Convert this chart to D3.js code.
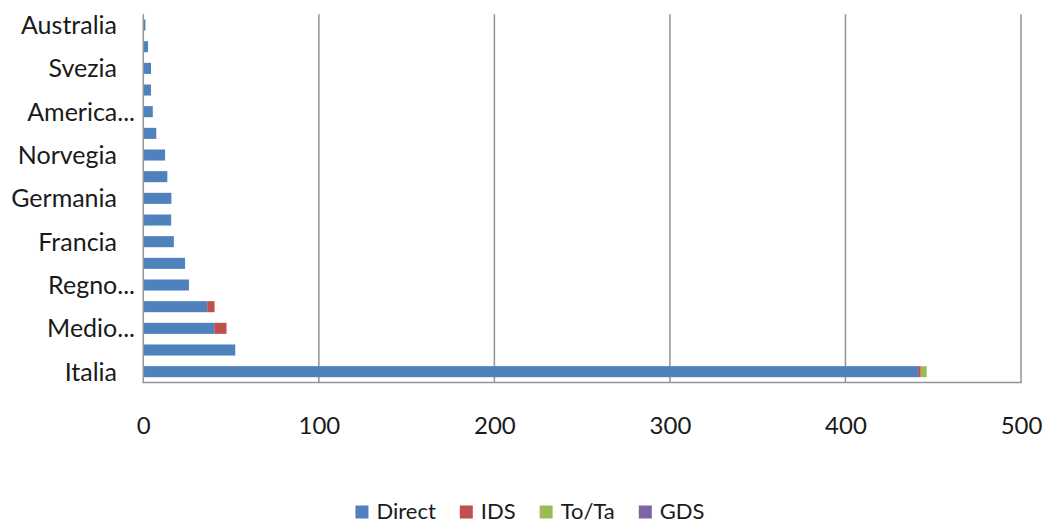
<!DOCTYPE html>
<html>
<head>
<meta charset="utf-8">
<script src="https://cdn.jsdelivr.net/npm/d3@7"></script>
<style>
  html, body { margin: 0; padding: 0; background: #fff; }
  svg { display: block; }
  text { font-family: Lato, "Open Sans", sans-serif; fill: #1a1a1a; }
</style>
</head>
<body>
<svg id="chart" width="1050" height="525"></svg>
<script>
// categories from bottom (Italia) to top (Australia); every other one is unlabeled in the source
const categories = ["Italia", "Spagna", "Medio Oriente", "Africa", "Regno Unito", "Svizzera",
  "Francia", "Belgio", "Germania", "Paesi Bassi", "Norvegia", "Danimarca",
  "America Latina", "Asia", "Svezia", "Finlandia", "Australia"];
const seriesNames = ["Direct", "IDS", "To/Ta", "GDS"];
const seriesColors = ["#4F81BD", "#C0504D", "#9BBB59", "#8064A2"];
const direct = [441, 52, 40, 36, 25.6, 23.4, 17, 15.5, 15.6, 13.3, 12, 7, 5, 4, 4, 2.3, 0.8];
const ids    = [1.5, 0, 7, 4.2, 0, 0, 0, 0, 0, 0, 0, 0, 0, 0, 0, 0, 0];
const tota   = [3.4, 0, 0, 0, 0, 0, 0, 0, 0, 0, 0, 0, 0, 0, 0, 0, 0];
const gds    = [0, 0, 0, 0, 0, 0, 0, 0, 0, 0, 0, 0, 0, 0, 0, 0, 0];
const xTicks = [0, 100, 200, 300, 400, 500];
const labelEvery = 2;

const svg = d3.select("#chart");
const plotL = 143.3, plotR = 1021, plotT = 14.2, plotB = 382.5;

const rows = categories.map((c, i) => ({ cat: c, Direct: direct[i], IDS: ids[i], "To/Ta": tota[i], GDS: gds[i] }));

const x = d3.scaleLinear().domain([0, 500]).range([plotL, plotR]);
const y = d3.scaleBand().domain(categories).range([plotB, plotT]).paddingInner(0.49).paddingOuter(0.245);

const stacked = d3.stack().keys(seriesNames)(rows);

// gridlines
svg.append("g").selectAll("line").data(xTicks.filter(t => t > 0)).join("line")
  .attr("x1", d => x(d)).attr("x2", d => x(d))
  .attr("y1", plotT).attr("y2", plotB)
  .attr("stroke", "#939393").attr("stroke-width", 1.5);

// bars
svg.append("g").selectAll("g").data(stacked).join("g")
  .attr("fill", (d, i) => seriesColors[i])
  .selectAll("rect").data(d => d).join("rect")
  .attr("x", d => x(d[0]) + 0.7)
  .attr("width", d => Math.max(0, x(d[1]) - x(d[0])))
  .attr("y", d => y(d.data.cat))
  .attr("height", y.bandwidth());

// axis lines
svg.append("line").attr("x1", plotL).attr("x2", plotL).attr("y1", plotT).attr("y2", plotB)
  .attr("stroke", "#939393").attr("stroke-width", 1.5);
svg.append("line").attr("x1", plotL - 0.75).attr("x2", plotR + 0.75).attr("y1", plotB).attr("y2", plotB)
  .attr("stroke", "#939393").attr("stroke-width", 1.5);

// x tick labels
const xAxis = d3.axisBottom(x).tickValues(xTicks).tickSize(0).tickPadding(0).tickFormat(d3.format("d"));
const gx = svg.append("g").attr("transform", `translate(0,${plotB})`).call(xAxis);
gx.select(".domain").remove();
gx.selectAll("text").attr("dy", null).attr("y", 51).attr("font-size", 24)
  .style("font-family", "Lato, sans-serif").attr("fill", "#111");

// y labels (every other one)
const yAxis = d3.axisLeft(y).tickSize(0).tickPadding(0)
  .tickFormat((d, i) => {
    if (i % labelEvery !== 0) return "";
    const parts = d.split(" ");
    return parts.length > 1 ? parts[0] + "..." : d;
  });
const gy = svg.append("g").call(yAxis);
gy.select(".domain").remove();
gy.selectAll("text")
  .attr("x", d => d.split(" ").length > 1 ? 135 : 117)
  .attr("dy", "0.36em").attr("font-size", 25)
  .style("font-family", "Lato, sans-serif").attr("fill", "#111");

// legend
const legend = svg.append("g");
let cx = 0;
seriesNames.forEach((name, i) => {
  const g = legend.append("g").attr("transform", `translate(${cx},0)`);
  g.append("rect").attr("x", 0).attr("y", -13.5).attr("width", 13).attr("height", 13).attr("fill", seriesColors[i]);
  const t = g.append("text").attr("x", 21).attr("y", 0).attr("font-size", 22).attr("fill", "#111").text(name);
  cx += 21 + t.node().getComputedTextLength() + 24;
});
const total = cx - 24;
legend.attr("transform", `translate(${530 - total / 2},519)`);
</script>
</body>
</html>
